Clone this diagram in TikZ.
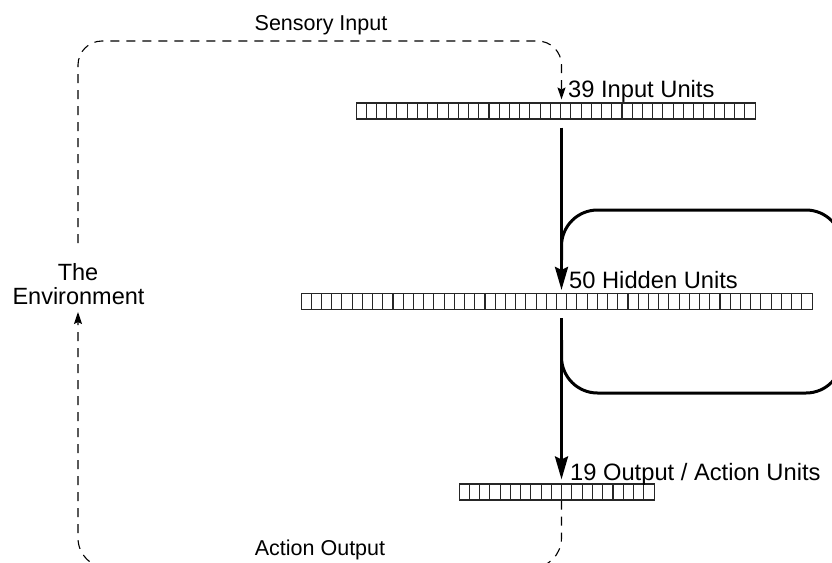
\documentclass[tikz,border=0pt]{standalone}
\usepackage{fontspec}
\setmainfont{Liberation Sans}
\usetikzlibrary{arrows.meta,calc}
\begin{document}
\begin{tikzpicture}[x=1pt,y=-1pt,
  rowbox/.style={draw=black!85,line width=1.1pt,inner sep=0pt,minimum height=16pt},
  divider/.style={draw=black!85,line width=1.1pt},
  rowlbl/.style={anchor=base west,inner sep=0pt,font=\fontsize{23.7}{26}\selectfont},
  envlbl/.style={anchor=base,inner sep=0pt,font=\fontsize{23.5}{26}\selectfont},
  pathlbl/.style={anchor=base,inner sep=0pt,font=\fontsize{21.5}{24}\selectfont},
  flow/.style={line width=3pt,-{Stealth[length=23pt,width=13pt,inset=3pt]}},
  recur/.style={line width=3pt,rounded corners=36pt},
  envline/.style={line width=1.1pt,dash pattern=on 9pt off 7pt},
  envtip/.style={-{Stealth[length=12pt,width=8pt,inset=2pt]}},
]
\useasboundingbox (0,0) rectangle (832,562);
\clip (0,0) rectangle (832,562);

% unit rows
\node[rowbox,minimum width=399pt,anchor=west] (inrow) at (356,111) {};
\node[rowbox,minimum width=511pt,anchor=west] (hidrow) at (301,301.5) {};
\node[rowbox,minimum width=195pt,anchor=west] (outrow) at (459,492) {};
\foreach \i in {1,...,38} \draw[divider] ($(inrow.north west)+(\i*10.2308,0)$) -- ++(0,16);
\foreach \i in {1,...,49} \draw[divider] ($(hidrow.north west)+(\i*10.22,0)$) -- ++(0,16);
\foreach \i in {1,...,18} \draw[divider] ($(outrow.north west)+(\i*10.263,0)$) -- ++(0,16);

% labels
\node[rowlbl] (inlbl) at (568,97.5) {39 Input Units};
\node[rowlbl] (hidlbl) at (569,288) {50 Hidden Units};
\node[rowlbl] (outlbl) at (570,480) {19 Output / Action Units};
\node[envlbl] (envA) at (78,280) {The};
\node[envlbl] (envB) at (78.5,304) {Environment};
\node[pathlbl] (senslbl) at (321,30) {Sensory Input};
\node[pathlbl] (actlbl) at (320,555) {Action Output};

\coordinate (colx) at (561.5,0);
\coordinate (envtop) at (78,243);
\coordinate (envbot) at (78,312);

% recurrent loop
\draw[recur] (561.5,260) -- (561.5,210) -- (842,210) -- (842,393) -- (561.5,393) -- (561.5,340);

% feed-forward arrows
\draw[flow] ([yshift=-8pt]inrow.south -| colx) -- ([yshift=3pt]hidrow.north -| colx);
\draw[flow] ([yshift=-8pt]hidrow.south -| colx) -- ([yshift=4pt]outrow.north -| colx);

% environment loop
\draw[envline,envtip,rounded corners=24pt] (envtop) -- (78,41) -- (561.5,41) -- ([yshift=3pt]inrow.north -| colx);
\draw[envline,envtip,rounded corners=30pt] (outrow.south -| colx) -- (561.5,568) -- (78,568) -- (envbot);
\end{tikzpicture}
\end{document}
